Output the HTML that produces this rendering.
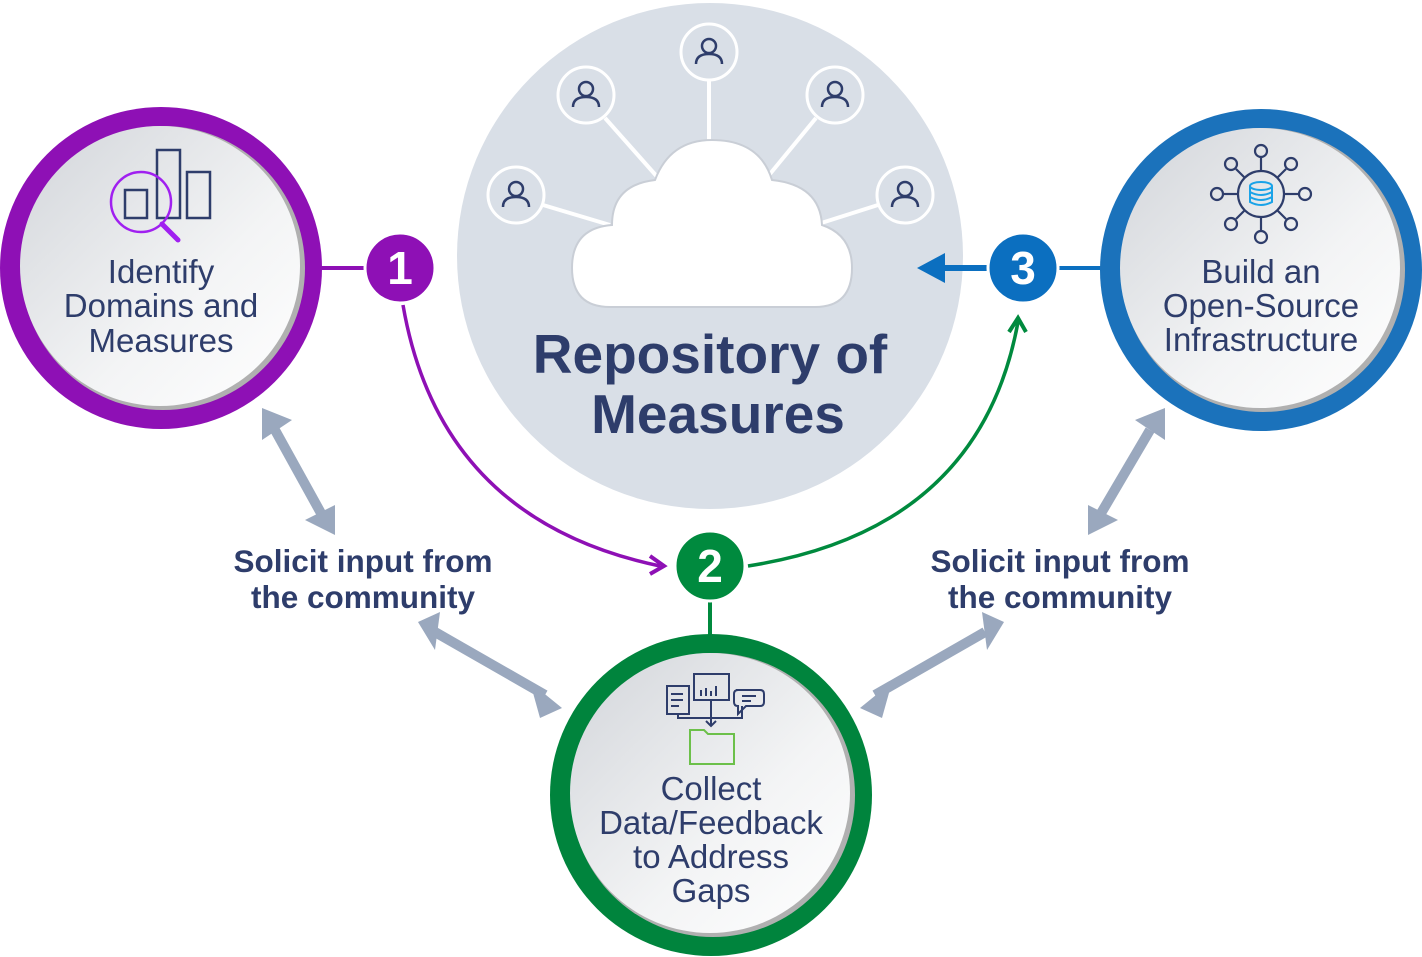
<!DOCTYPE html>
<html><head><meta charset="utf-8"><style>body{margin:0;background:#fff}svg{display:block}</style></head><body>
<svg width="1422" height="957" viewBox="0 0 1422 957" xmlns="http://www.w3.org/2000/svg" font-family="Liberation Sans, sans-serif">
<defs>
<linearGradient id="g" x1="0" y1="0" x2="1" y2="1"><stop offset="0" stop-color="#d2d5da"/><stop offset="0.6" stop-color="#f3f4f5"/><stop offset="1" stop-color="#ffffff"/></linearGradient>
<g id="p"><circle cx="0" cy="-6" r="7"/><path d="M-13,12 Q-13,2 0,2 Q13,2 13,12"/></g>
</defs>
<!-- big center circle -->
<circle cx="710" cy="256" r="253" fill="#d9dfe7"/>
<g stroke="#fff" stroke-width="4">
<line x1="709" y1="80" x2="709" y2="150"/><line x1="605" y1="118" x2="660" y2="180"/><line x1="816" y1="118" x2="765" y2="180"/>
<line x1="543" y1="205" x2="610" y2="225"/><line x1="878" y1="205" x2="815" y2="225"/>
</g>
<g fill="#d9dfe7" stroke="#fff" stroke-width="3">
<circle cx="709" cy="52" r="28"/><circle cx="586" cy="95" r="28"/><circle cx="835" cy="95" r="28"/><circle cx="516" cy="195" r="28"/><circle cx="905" cy="195" r="28"/>
</g>
<g fill="none" stroke="#2e3d6b" stroke-width="2.5">
<use href="#p" x="709" y="52"/><use href="#p" x="586" y="95"/><use href="#p" x="835" y="95"/><use href="#p" x="516" y="195"/><use href="#p" x="905" y="195"/>
</g>
<path d="M610,307 Q572,307 572,268 Q572,228 612,225 Q612,185 655,180 Q670,140 712,140 Q760,140 772,180 Q820,185 822,225 Q852,235 852,268 Q852,307 815,307 Z" fill="#fff" stroke="#c9ced6" stroke-width="2"/>
<text x="710" y="373" font-size="55" font-weight="bold" fill="#2e3d6b" text-anchor="middle">Repository of</text>
<text x="718" y="433" font-size="55" font-weight="bold" fill="#2e3d6b" text-anchor="middle">Measures</text>
<line x1="320" y1="268" x2="370" y2="268" stroke="#8e10b5" stroke-width="4"/>
<line x1="1055" y1="268" x2="1102" y2="268" stroke="#0b6fc0" stroke-width="4"/>
<line x1="710" y1="598" x2="710" y2="636" stroke="#008a3e" stroke-width="4"/>
<path d="M403,305 Q440,520 660,566" fill="none" stroke="#8e10b5" stroke-width="3.5"/>
<path d="M650,556 L664,566 L650,574" fill="none" stroke="#8e10b5" stroke-width="4"/>
<path d="M748,566 Q980,530 1018,322" fill="none" stroke="#008a3e" stroke-width="3.5"/>
<path d="M1009,332 L1018,318 L1026,332" fill="none" stroke="#008a3e" stroke-width="4"/>
<line x1="990" y1="268" x2="935" y2="268" stroke="#0b6fc0" stroke-width="6"/>
<path d="M945,253 L917,268 L945,283 Z" fill="#0b6fc0"/>
<g stroke="#9aa8be" stroke-width="10" fill="#9aa8be">
<line x1="275" y1="430" x2="322" y2="515"/>
<line x1="435" y1="632" x2="545" y2="695"/>
<line x1="1150" y1="430" x2="1100" y2="515"/>
<line x1="985" y1="632" x2="875" y2="695"/>
</g>
<g fill="#9aa8be">
<path d="M262,408 L292,420 L262,440 Z"/><path d="M335,535 L305,520 L335,505 Z"/>
<path d="M418,622 L440,612 L435,650 Z"/><path d="M562,708 L540,718 L530,682 Z"/>
<path d="M1165,408 L1135,420 L1165,440 Z"/><path d="M1088,535 L1118,520 L1088,505 Z"/>
<path d="M1004,622 L982,612 L987,650 Z"/><path d="M860,708 L882,718 L892,682 Z"/>
</g>
<g font-size="31.5" font-weight="bold" fill="#2e3d6b" text-anchor="middle">
<text x="363" y="572">Solicit input from</text><text x="363" y="608">the community</text>
<text x="1060" y="572">Solicit input from</text><text x="1060" y="608">the community</text>
</g>
<circle cx="161" cy="268" r="161" fill="#8e10b5"/><circle cx="163" cy="268" r="142" fill="#b0b0b0"/><circle cx="160" cy="266" r="140" fill="url(#g)"/>
<circle cx="1261" cy="270" r="161" fill="#1b72bb"/><circle cx="1263" cy="270" r="142" fill="#b0b0b0"/><circle cx="1260" cy="268" r="140" fill="url(#g)"/>
<circle cx="711" cy="795" r="161" fill="#00843d"/><circle cx="713" cy="795" r="142" fill="#b0b0b0"/><circle cx="710" cy="793" r="140" fill="url(#g)"/>
<g stroke="#fff" stroke-width="3">
<circle cx="400" cy="268" r="35" fill="#8e10b5"/><circle cx="710" cy="566" r="35" fill="#008a3e"/><circle cx="1023" cy="268" r="35" fill="#0b6fc0"/>
</g>
<g font-size="46" font-weight="bold" fill="#fff" text-anchor="middle">
<text x="400" y="284">1</text><text x="710" y="582">2</text><text x="1023" y="284">3</text>
</g>
<g fill="none" stroke="#2e3d6b" stroke-width="2.5">
<rect x="125" y="190" width="22" height="28"/><rect x="157" y="150" width="23" height="68"/><rect x="187" y="172" width="23" height="46"/>
</g>
<circle cx="141" cy="202" r="30" fill="none" stroke="#a020f0" stroke-width="2.5"/>
<line x1="162" y1="224" x2="178" y2="240" stroke="#a020f0" stroke-width="5" stroke-linecap="round"/>
<g fill="none" stroke="#2e3d6b" stroke-width="2.2">
<circle cx="1261" cy="194" r="23"/>
<line x1="1261" y1="171" x2="1261" y2="158"/><line x1="1261" y1="217" x2="1261" y2="230"/><line x1="1238" y1="194" x2="1224" y2="194"/><line x1="1284" y1="194" x2="1298" y2="194"/>
<line x1="1245" y1="178" x2="1236" y2="169"/><line x1="1277" y1="178" x2="1286" y2="169"/><line x1="1245" y1="210" x2="1236" y2="219"/><line x1="1277" y1="210" x2="1286" y2="219"/>
<circle cx="1261" cy="151" r="6"/><circle cx="1261" cy="237" r="6"/><circle cx="1217" cy="194" r="6"/><circle cx="1305" cy="194" r="6"/>
<circle cx="1231" cy="164" r="6"/><circle cx="1291" cy="164" r="6"/><circle cx="1231" cy="224" r="6"/><circle cx="1291" cy="224" r="6"/>
</g>
<g fill="none" stroke="#1aa3e8" stroke-width="2"><ellipse cx="1261" cy="186" rx="11" ry="4"/><path d="M1250,186 V202 Q1261,208 1272,202 V186 M1250,192 Q1261,198 1272,192 M1250,197 Q1261,203 1272,197"/></g>
<g fill="none" stroke="#2e3d6b" stroke-width="2">
<rect x="667" y="686" width="22" height="28"/><rect x="694" y="674" width="35" height="26"/><path d="M736,690 h24 q4,0 4,4 v8 q0,4 -4,4 h-14 l-8,8 v-8 q-4,0 -4,-4 v-8 q0,-4 4,-4z"/>
<path d="M678,714 v4 h64 v-12 M711,700 v26 M706,721 l5,5 l5,-5"/>
<path d="M701,696 v-6 M706,696 v-8 M711,696 v-5 M716,696 v-10"/>
<path d="M671,694 h12 M671,700 h12 M671,706 h8 M742,696 h14 M742,701 h9"/>
</g>
<path d="M690,730 h14 l4,4 h26 v30 h-44 z" fill="none" stroke="#6cc04a" stroke-width="2"/>
<g font-size="33" fill="#2e3d6b" text-anchor="middle">
<text x="161" y="283">Identify</text><text x="161" y="317">Domains and</text><text x="161" y="352">Measures</text>
<text x="1261" y="283">Build an</text><text x="1261" y="317">Open-Source</text><text x="1261" y="351">Infrastructure</text>
<text x="711" y="800">Collect</text><text x="711" y="834">Data/Feedback</text><text x="711" y="868">to Address</text><text x="711" y="902">Gaps</text>
</g>
</svg>
</body></html>
